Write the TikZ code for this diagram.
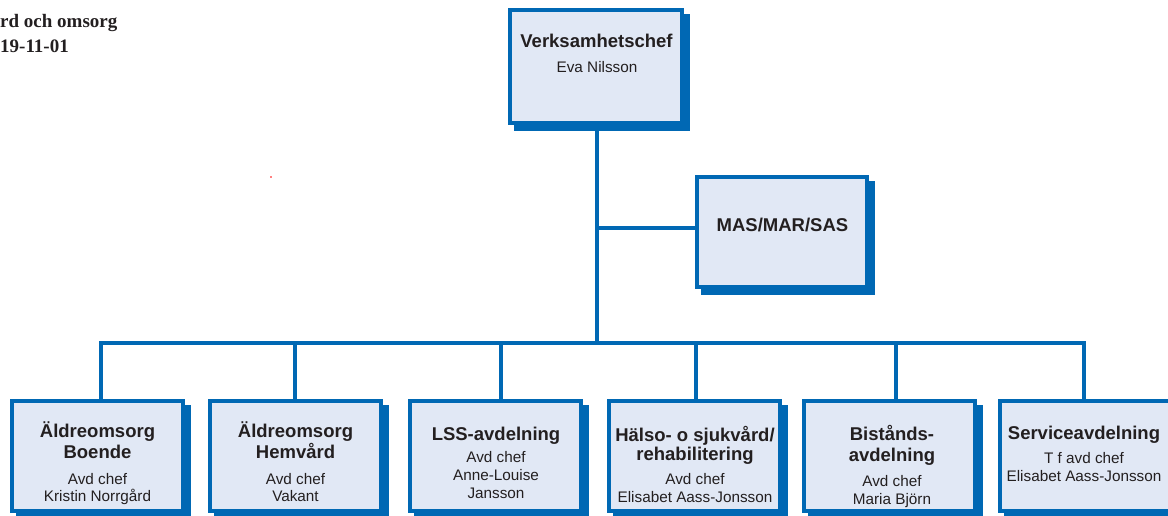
\documentclass[tikz,border=0pt]{standalone}
\usepackage{fontspec}
\setmainfont{Liberation Sans}
\newfontfamily\headserif{Liberation Serif}
\usetikzlibrary{backgrounds}
\definecolor{boxblue}{HTML}{0068B4}
\definecolor{boxfill}{HTML}{E1E8F5}
\definecolor{txt}{HTML}{231F20}
\begin{document}
\begin{tikzpicture}[x=1pt,y=-1pt,
  orgbox/.style={draw=boxblue, line width=4pt, fill=boxfill, minimum width=171pt, minimum height=110pt, inner sep=0pt},
  conn/.style={draw=boxblue, line width=4pt},
  ttl/.style={font=\fontsize{18.5}{21}\selectfont\bfseries, text=txt, anchor=base, inner sep=0pt},
  sub/.style={font=\fontsize{15.3}{17}\selectfont, text=txt, anchor=base, inner sep=0pt},
  head/.style={font=\fontsize{19}{22}\headserif\bfseries, text=txt, anchor=base west, inner sep=0pt}]
\useasboundingbox (0,0) rectangle (1168,516);

% boxes
\node[orgbox, minimum width=172pt, minimum height=113pt] (top) at (596,66.5) {};
\node[orgbox, minimum width=170pt, minimum height=110pt] (mas) at (782,232) {};
\node[orgbox] (b1) at (97,456) {};
\node[orgbox] (b2) at (295.5,456) {};
\node[orgbox] (b3) at (495.5,456) {};
\node[orgbox] (b4) at (694.5,456) {};
\node[orgbox] (b5) at (889.5,456) {};
\node[orgbox] (b6) at (1085,456) {};

% shadows
\begin{scope}[on background layer]
\foreach \n in {top,mas,b1,b2,b3,b4,b5,b6}
  \fill[boxblue] ([shift={(6pt,-6pt)}]\n.south west) rectangle ([shift={(6pt,-6pt)}]\n.north east);
\end{scope}

% connectors
\coordinate (spine) at (597,343);
\coordinate (branch) at (597,227.5);
\coordinate (j1) at (101,343);
\coordinate (j2) at (295,343);
\coordinate (j3) at (501,343);
\coordinate (j4) at (696,343);
\coordinate (j5) at (896,343);
\coordinate (j6) at (1084,343);
\draw[conn] (top.south -| spine) -- (spine);
\draw[conn] (branch) -- (branch -| mas.west);
\draw[conn] (j1 |- b1.north) -- (j1) -- (j6) -- (j6 |- b6.north);
\foreach \i in {2,3,4,5}
  \draw[conn] (j\i) -- (j\i |- b\i.north);

% texts
\node[ttl] (t0a) at (596.5,48) {Verksamhetschef};
\node[sub] (t0b) at (597,73) {Eva Nilsson};
\node[ttl] (tm) at (782.5,231) {MAS/MAR/SAS};

\node[ttl] (t1a) at (97.5,437) {Äldreomsorg};
\node[ttl] (t1b) at (97.5,458) {Boende};
\node[sub] (t1c) at (97.5,484) {Avd chef};
\node[sub] (t1d) at (97.5,501) {Kristin Norrgård};

\node[ttl] (t2a) at (295.5,437) {Äldreomsorg};
\node[ttl] (t2b) at (295.5,458) {Hemvård};
\node[sub] (t2c) at (295.5,484) {Avd chef};
\node[sub] (t2d) at (295.5,501) {Vakant};

\node[ttl] (t3a) at (496,440) {LSS-avdelning};
\node[sub] (t3b) at (496,462.5) {Avd chef};
\node[sub] (t3c) at (496,480.5) {Anne-Louise};
\node[sub] (t3d) at (496,498) {Jansson};

\node[ttl] (t4a) at (695,441) {Hälso- o sjukvård/};
\node[ttl] (t4b) at (695,460) {rehabilitering};
\node[sub] (t4c) at (695,484) {Avd chef};
\node[sub] (t4d) at (695,502) {Elisabet Aass-Jonsson};

\node[ttl] (t5a) at (892,440) {Bistånds-};
\node[ttl] (t5b) at (892,461) {avdelning};
\node[sub] (t5c) at (892,486) {Avd chef};
\node[sub] (t5d) at (892,504) {Maria Björn};

\node[ttl] (t6a) at (1084,439) {Serviceavdelning};
\node[sub] (t6b) at (1084,463) {T f avd chef};
\node[sub] (t6c) at (1084,481) {Elisabet Aass-Jonsson};

% header fragment
\node[head] (h1) at (0,28) {rd och omsorg};
\node[head] (h2) at (0,53) {19-11-01};
\fill[red] (271,177) circle (0.9pt);
\end{tikzpicture}
\end{document}
